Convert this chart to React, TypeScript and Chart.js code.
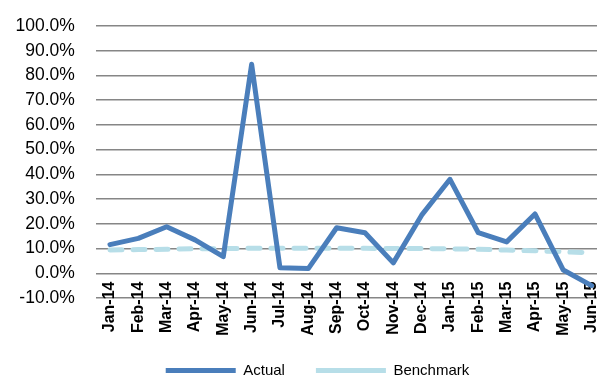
import { useEffect, useRef } from 'react';
import { Chart, registerables } from 'chart.js';

Chart.register(...registerables);

const categories = [
  'Jan-14', 'Feb-14', 'Mar-14', 'Apr-14', 'May-14', 'Jun-14', 'Jul-14', 'Aug-14', 'Sep-14',
  'Oct-14', 'Nov-14', 'Dec-14', 'Jan-15', 'Feb-15', 'Mar-15', 'Apr-15', 'May-15', 'Jun-15',
];
const actual = [11.6, 14.1, 18.8, 13.5, 6.7, 84.5, 2.2, 1.9, 18.4, 16.4, 4.2, 23.5, 38.0, 16.4, 12.7, 24.0, 1.3, -5.0];
const benchmark = [9.4, 9.6, 9.7, 9.9, 10.0, 10.1, 10.1, 10.1, 10.1, 10.1, 10.0, 10.0, 9.9, 9.7, 9.4, 9.1, 8.7, 8.3];
const seriesNames = ['Actual', 'Benchmark'];
const yMin = -10;
const yMax = 100;
const yStep = 10;

const FONT = "'Liberation Sans', Arial, sans-serif";
const CANVAS_W = 620;
const CANVAS_H = 388;

const noLabelClip = (scale: any) => {
  scale._computeLabelArea = () => undefined;
};

export default function App() {
  const ref = useRef<HTMLCanvasElement>(null);

  useEffect(() => {
    const chart = new Chart(ref.current!, {
      type: 'line',
      data: {
        labels: categories,
        datasets: [
          {
            label: seriesNames[0],
            data: actual,
            borderColor: '#4A7EBB',
            backgroundColor: '#4A7EBB',
            borderWidth: 5,
            pointRadius: 0,
            pointHoverRadius: 0,
            tension: 0,
            borderCapStyle: 'round',
            borderJoinStyle: 'round',
            fill: false,
          },
          {
            label: seriesNames[1],
            data: benchmark,
            borderColor: '#B7DEE8',
            backgroundColor: '#B7DEE8',
            borderWidth: 5,
            borderDash: [12, 11],
            pointRadius: 0,
            pointHoverRadius: 0,
            tension: 0,
            borderCapStyle: 'round',
            borderJoinStyle: 'round',
            fill: false,
          },
        ],
      },
      options: {
        responsive: false,
        animation: false,
        devicePixelRatio: 1,
        layout: { padding: { top: 26, left: 29.2, right: 14.2, bottom: 0 } },
        plugins: {
          tooltip: { enabled: false },
          legend: {
            position: 'bottom',
            align: 'center',
            labels: {
              usePointStyle: true,
              pointStyle: 'line',
              pointStyleWidth: 70,
              padding: 31,
              color: '#000',
              font: { family: FONT, size: 15 },
            },
          },
        },
        scales: {
          x: {
            type: 'category',
            offset: true,
            grid: { display: false, drawTicks: false },
            border: { display: false },
            ticks: {
              autoSkip: false,
              minRotation: 90,
              maxRotation: 90,
              padding: -16.5,
              color: '#000',
              font: { family: FONT, size: 16, weight: 'bold' },
            },
            afterFit: (scale: any) => {
              scale.height = 34;
              noLabelClip(scale);
            },
          },
          y: {
            min: yMin,
            max: yMax,
            grid: {
              color: '#868686',
              lineWidth: 1.5,
              drawTicks: true,
              tickLength: 21,
              tickColor: 'rgba(0,0,0,0)',
            },
            border: { display: false },
            ticks: {
              stepSize: yStep,
              padding: 0,
              color: '#000',
              font: { family: FONT, size: 17.5 },
              callback: (v: any) => Number(v).toFixed(1) + '%',
            },
            afterFit: (scale: any) => {
              scale.width = 66.6;
              noLabelClip(scale);
            },
          },
        },
      },
    });
    return () => chart.destroy();
  }, []);

  return (
    <div
      style={{
        position: 'fixed',
        left: 0,
        top: 0,
        width: 597,
        height: 379,
        overflow: 'hidden',
        background: '#fff',
      }}
    >
      <canvas
        ref={ref}
        width={CANVAS_W}
        height={CANVAS_H}
        style={{ display: 'block', width: CANVAS_W, height: CANVAS_H }}
      />
    </div>
  );
}
